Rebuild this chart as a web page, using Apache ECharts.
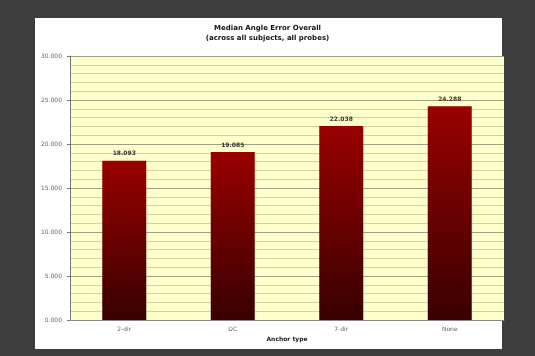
<!DOCTYPE html>
<html>
<head>
<meta charset="utf-8">
<script src="https://cdn.jsdelivr.net/npm/echarts@6/dist/echarts.min.js"></script>
<style>
  html, body { margin: 0; padding: 0; background: #3d3d3d; }
  #panel { position: absolute; left: 35px; top: 18px; width: 467px; height: 331px; background: #ffffff; }
  #chart { position: absolute; left: 0; top: 0; width: 535px; height: 356px; }
</style>
</head>
<body>
<div id="panel"></div>
<div id="chart"></div>
<script>
// Median angle error per anchor type
const categories = ['2-dir', 'DC', '7-dir', 'None'];
const medianError = [18.093, 19.085, 22.038, 24.288];
const yTicks = { min: 0, max: 30, interval: 5 };

const chart = echarts.init(document.getElementById('chart'), null, { renderer: 'canvas' });
const font = 'DejaVu Sans';

chart.setOption({
  backgroundColor: 'transparent',
  animation: false,
  title: {
    text: 'Median Angle Error Overall\n(across all subjects, all probes)',
    left: 'center', top: 18,
    textStyle: { fontFamily: font, fontSize: 7, fontWeight: 'bold', color: '#111', lineHeight: 10 }
  },
  grid: { left: 70, top: 56, width: 434, height: 264, backgroundColor: '#ffffcc', show: true, borderWidth: 0 },
  xAxis: {
    type: 'category',
    data: categories,
    name: 'Anchor type',
    nameLocation: 'middle',
    nameGap: 13,
    nameTextStyle: { fontFamily: font, fontSize: 6, fontWeight: 'bold', color: '#222' },
    axisLine: { lineStyle: { color: '#888', width: 1 } },
    axisTick: { show: false },
    axisLabel: { fontFamily: font, fontSize: 6, color: '#666', margin: 6 }
  },
  yAxis: {
    type: 'value',
    min: yTicks.min, max: yTicks.max, interval: yTicks.interval,
    axisLine: { show: true, lineStyle: { color: '#777', width: 1 } },
    axisTick: { show: true, length: 3, lineStyle: { color: '#777' } },
    axisLabel: { fontFamily: font, fontSize: 6, color: '#666', margin: 8,
      formatter: v => v.toFixed(3) },
    splitLine: { show: true, lineStyle: { color: '#9e9e80', width: 1 } },
    minorTick: { show: false, splitNumber: 5 },
    minorSplitLine: { show: true, lineStyle: { color: '#d6d0a2', width: 1 } }
  },
  series: [{
    type: 'bar',
    data: medianError,
    barWidth: 44,
    itemStyle: {
      color: new echarts.graphic.LinearGradient(0, 0, 0, 1, [
        { offset: 0, color: '#9a0000' },
        { offset: 1, color: '#380000' }
      ])
    },
    label: {
      show: true, position: 'top', distance: 4,
      fontFamily: font, fontSize: 6, fontWeight: 'bold', color: '#333',
      formatter: p => p.value.toFixed(3)
    }
  }]
});
</script>
</body>
</html>
